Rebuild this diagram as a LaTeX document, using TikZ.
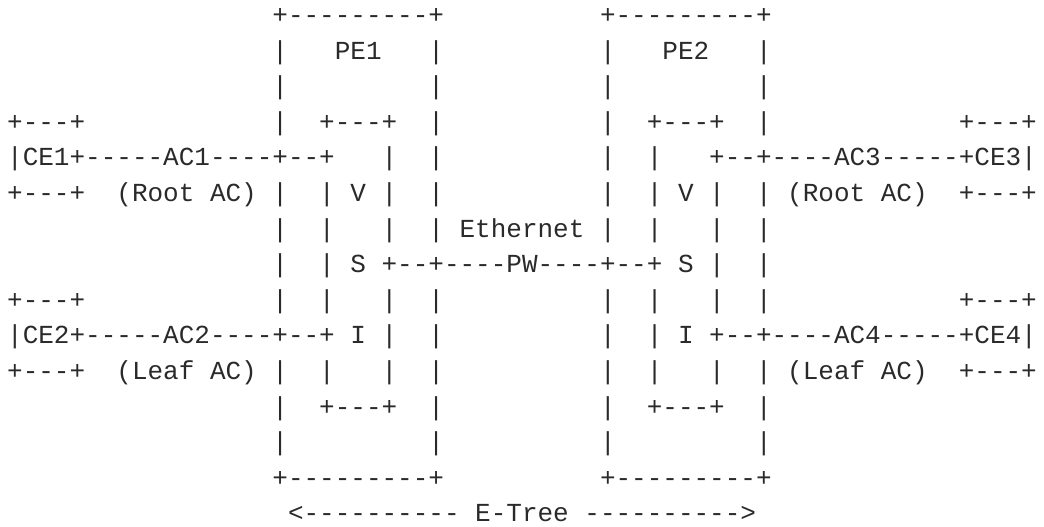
\documentclass[tikz,border=0pt]{standalone}
\usepackage{fontspec}
\newfontfamily\ascfont{Liberation Mono}[Ligatures=TeXOff]
\definecolor{ink}{HTML}{2A2A2A}
\tikzset{asc/.style={anchor=base west, inner sep=0pt, outer sep=0pt, text=ink,
  font={\ascfont\fontsize{26pt}{31pt}\selectfont\frenchspacing}}}
% row, column placement of one run of characters
\newcommand\aline[4]{\node[asc] (#1) at ({7.2+#3*15.6},{527-23.5-(#2-1)*35.6}) {#4};}
\begin{document}
\begin{tikzpicture}[x=1pt,y=1pt]
\useasboundingbox (0,0) rectangle (1044,527);
\aline{a1}{1}{17}{+---------+}
\aline{b1}{1}{38}{+---------+}
\aline{a2}{2}{17}{|~~~PE1~~~|}
\aline{b2}{2}{38}{|~~~PE2~~~|}
\aline{a3}{3}{17}{|~~~~~~~~~|}
\aline{b3}{3}{38}{|~~~~~~~~~|}
\aline{c4}{4}{0}{+---+}
\aline{a4}{4}{17}{|~~+---+~~|}
\aline{b4}{4}{38}{|~~+---+~~|}
\aline{d4}{4}{61}{+---+}
\aline{a5}{5}{0}{|CE1+-----AC1----+--+~~~|~~|}
\aline{b5}{5}{38}{|~~|~~~+--+----AC3-----+CE3|}
\aline{a6}{6}{0}{+---+~~(Root~AC)~|~~|~V~|~~|}
\aline{b6}{6}{38}{|~~|~V~|~~|~(Root~AC)~~+---+}
\aline{a7}{7}{17}{|~~|~~~|~~|~Ethernet~|~~|~~~|~~|}
\aline{a8}{8}{17}{|~~|~S~+--+----PW----+--+~S~|~~|}
\aline{c9}{9}{0}{+---+}
\aline{a9}{9}{17}{|~~|~~~|~~|}
\aline{b9}{9}{38}{|~~|~~~|~~|}
\aline{d9}{9}{61}{+---+}
\aline{a10}{10}{0}{|CE2+-----AC2----+--+~I~|~~|}
\aline{b10}{10}{38}{|~~|~I~+--+----AC4-----+CE4|}
\aline{a11}{11}{0}{+---+~~(Leaf~AC)~|~~|~~~|~~|}
\aline{b11}{11}{38}{|~~|~~~|~~|~(Leaf~AC)~~+---+}
\aline{a12}{12}{17}{|~~+---+~~|}
\aline{b12}{12}{38}{|~~+---+~~|}
\aline{a13}{13}{17}{|~~~~~~~~~|}
\aline{b13}{13}{38}{|~~~~~~~~~|}
\aline{a14}{14}{17}{+---------+}
\aline{b14}{14}{38}{+---------+}
\aline{a15}{15}{18}{<----------~E-Tree~---------->}
\end{tikzpicture}
\end{document}
